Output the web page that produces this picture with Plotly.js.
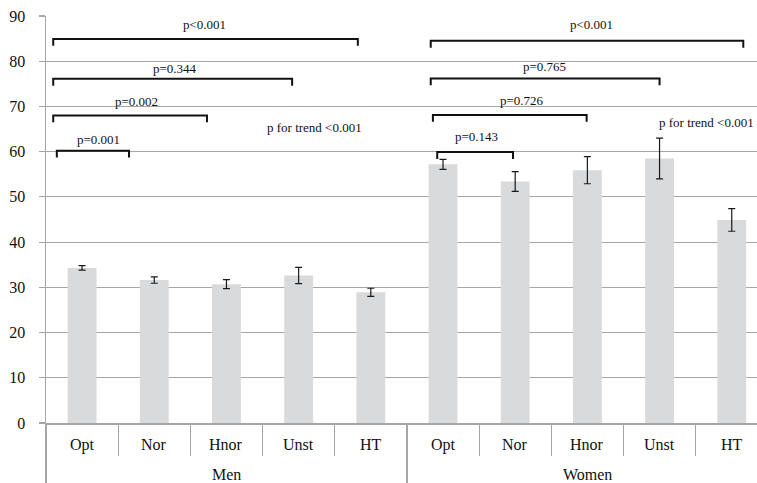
<!DOCTYPE html>
<html><head><meta charset="utf-8">
<script src="https://cdn.plot.ly/plotly-3.0.1.min.js"></script>
<style>html,body{margin:0;padding:0;background:#fff}#chart{width:757px;height:483px}</style>
</head><body><div id="chart"></div>
<script>
// ---- data ----
var categories = ["Opt", "Nor", "Hnor", "Unst", "HT"];
var groups = ["Men", "Women"];
var menValues = [34.3, 31.6, 30.7, 32.6, 28.9];
var menErrors = [0.5, 0.7, 1.0, 1.8, 0.9];
var womenValues = [57.2, 53.4, 55.9, 58.5, 44.9];
var womenErrors = [1.1, 2.2, 3.0, 4.5, 2.5];
var yTicks = [0, 10, 20, 30, 40, 50, 60, 70, 80, 90];
// comparison brackets: [label, x start, x end, bracket y, label x, label y]
var bracketLabels = ["p<0.001", "p=0.344", "p=0.002", "p=0.001", "p<0.001", "p=0.765", "p=0.726", "p=0.143"];
var bracketX0 = [-0.40, -0.40, -0.40, -0.35, 4.83, 4.83, 4.86, 4.92];
var bracketX1 = [3.82, 2.91, 1.73, 0.65, 9.16, 8.00, 6.99, 5.97];
var bracketY = [84.9, 76.1, 68.0, 60.2, 84.5, 76.2, 68.1, 59.9];
var labelX = [1.70, 1.29, 0.76, 0.23, 7.06, 6.41, 6.10, 5.47];
var labelY = [88.1, 78.5, 71.0, 62.6, 88.1, 78.8, 71.4, 63.3];
var trendLabels = ["p for trend <0.001", "p for trend <0.001"];
var trendX = [3.22, 8.65];
var trendY = [65.4, 66.4];

// ---- build ----
var allCats = categories.concat(categories);
var xs = allCats.map(function (c, i) { return i; });
var vals = menValues.concat(womenValues);
var errs = menErrors.concat(womenErrors);
var serif = "'Liberation Serif', 'Times New Roman', Times, serif";
var gridCol = "#a6a6a6";

var traces = [{
  type: "bar", x: xs, y: vals, width: 0.4,
  marker: { color: "#d9dadc", line: { width: 0 } },
  error_y: { type: "data", array: errs, visible: true, color: "#1a1a1a", thickness: 1.2, width: 3.5 },
  hoverinfo: "skip", showlegend: false
}, {
  type: "scatter", x: [0], y: [0], xaxis: "x2", mode: "markers",
  marker: { opacity: 0 }, hoverinfo: "skip", showlegend: false
}];

var shapes = [];
var annotations = [];
var drop = 1.5;
for (var i = 0; i < bracketLabels.length; i++) {
  var x0 = bracketX0[i], x1 = bracketX1[i], y = bracketY[i];
  shapes.push({
    type: "path", xref: "x", yref: "y",
    path: "M" + x0 + "," + (y - drop) + " L" + x0 + "," + y + " L" + x1 + "," + y + " L" + x1 + "," + (y - drop),
    line: { color: "#111", width: 2 }
  });
  annotations.push({
    xref: "x", yref: "y", x: labelX[i], y: labelY[i], text: bracketLabels[i],
    showarrow: false, font: { family: serif, size: 13, color: "#111" }
  });
}
for (var j = 0; j < trendLabels.length; j++) {
  annotations.push({
    xref: "x", yref: "y", x: trendX[j], y: trendY[j], text: trendLabels[j],
    showarrow: false, font: { family: serif, size: 13, color: "#111" }
  });
}
for (var k = 0; k < allCats.length; k++) {
  annotations.push({
    xref: "x", yref: "paper", x: k, y: -0.054, yanchor: "middle", text: allCats[k],
    showarrow: false, font: { family: serif, size: 16, color: "#111" }
  });
}
for (var g = 0; g < groups.length; g++) {
  annotations.push({
    xref: "x", yref: "paper", x: g * 5 + 2, y: -0.127, yanchor: "middle", text: groups[g],
    showarrow: false, font: { family: serif, size: 16, color: "#111" }
  });
}

var xr = [-0.5, 9.35];
var minorTicks = [];
for (var t = 0; t < 9; t++) { if (t !== 4) minorTicks.push(t + 0.5); }

var layout = {
  width: 757, height: 483,
  margin: { l: 46, r: 0, t: 16, b: 60, pad: 0 },
  paper_bgcolor: "#fff", plot_bgcolor: "#fff",
  font: { family: serif, color: "#111" },
  xaxis: {
    range: xr, fixedrange: true, showgrid: false, zeroline: false,
    showline: true, linecolor: gridCol, linewidth: 1.5,
    tickmode: "array", tickvals: minorTicks, ticktext: minorTicks.map(function () { return ""; }),
    ticks: "outside", ticklen: 31, tickcolor: gridCol, tickwidth: 1.2, showticklabels: false
  },
  xaxis2: {
    overlaying: "x", range: xr, fixedrange: true, showgrid: false, zeroline: false,
    showline: false, tickmode: "array", tickvals: [-0.5, 4.5], ticktext: ["", ""],
    ticks: "outside", ticklen: 60, tickcolor: gridCol, tickwidth: 1.2, showticklabels: false, side: "bottom", anchor: "y"
  },
  yaxis: {
    range: [0, 90], fixedrange: true, tickmode: "array", tickvals: yTicks,
    showgrid: true, gridcolor: gridCol, gridwidth: 1.2, zeroline: false,
    showline: true, linecolor: gridCol, linewidth: 1.5,
    ticks: "outside", ticklen: 6, tickcolor: gridCol, tickwidth: 1.2,
    ticklabelstandoff: 10,
    tickfont: { family: serif, size: 16, color: "#111" }
  },
  shapes: shapes,
  annotations: annotations,
  showlegend: false
};

Plotly.newPlot("chart", traces, layout, { staticPlot: true, displayModeBar: false });
</script>
</body></html>
